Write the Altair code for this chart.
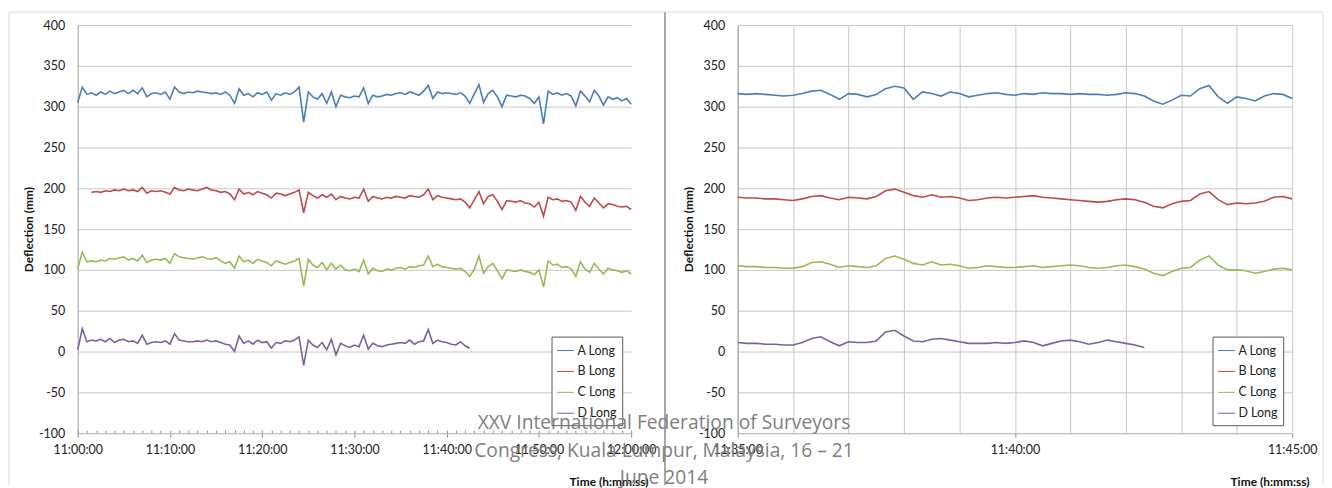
import altair as alt
import pandas as pd

# ---------------- data ----------------
SERIES = ["A Long", "B Long", "C Long", "D Long"]
COLORS = ["#4A7EBB", "#BE4B48", "#98B954", "#7D60A0"]
Y_TICKS = [-100, -50, 0, 50, 100, 150, 200, 250, 300, 350, 400]

# left panel: minutes after 11:00, 30-second samples
LEFT_STEP = 0.5
LEFT_START = [0.0, 1.5, 0.0, 0.0]
left_A = [305, 324, 315, 317, 314, 318, 315, 319, 316, 318,
          320, 316, 320, 316, 323, 312, 316, 317, 315, 318,
          309, 324, 318, 316, 318, 317, 319, 318, 317, 316,
          317, 315, 318, 314, 304, 322, 314, 316, 312, 317,
          315, 318, 308, 316, 314, 317, 315, 318, 324, 281,
          318, 312, 309, 316, 304, 318, 300, 314, 312, 311,
          313, 312, 323, 304, 314, 312, 313, 315, 314, 316,
          317, 315, 318, 316, 314, 319, 326, 310, 318, 316,
          317, 316, 315, 317, 313, 304, 316, 327, 305, 316,
          320, 312, 300, 314, 313, 312, 314, 313, 310, 304,
          312, 279, 319, 315, 317, 314, 316, 313, 301, 319,
          313, 306, 320, 313, 302, 312, 309, 311, 307, 310,
          303]
left_B = [195, 196, 195, 197, 196, 198, 197, 199, 197, 198,
          196, 201, 194, 197, 196, 197, 195, 193, 201, 198,
          197, 199, 198, 197, 199, 201, 198, 197, 195, 196,
          193, 186, 199, 193, 195, 192, 196, 194, 192, 188,
          194, 193, 191, 193, 195, 198, 170, 195, 191, 188,
          192, 189, 193, 186, 190, 188, 187, 189, 188, 199,
          184, 190, 188, 187, 189, 188, 190, 189, 188, 191,
          190, 189, 192, 199, 186, 191, 189, 188, 187, 186,
          187, 183, 176, 186, 196, 181, 190, 192, 184, 174,
          185, 184, 183, 185, 182, 181, 177, 183, 166, 189,
          186, 187, 184, 185, 183, 173, 190, 183, 178, 188,
          182, 176, 181, 180, 178, 177, 178, 174]
left_C = [101, 122, 110, 111, 110, 112, 111, 114, 113, 115,
          116, 112, 114, 111, 118, 109, 112, 113, 112, 114,
          108, 120, 116, 115, 114, 113, 115, 116, 114, 113,
          115, 111, 108, 110, 102, 117, 110, 112, 108, 113,
          111, 109, 105, 111, 109, 107, 109, 111, 114, 80,
          113, 106, 103, 109, 100, 108, 101, 106, 100, 99,
          101, 98, 112, 95, 102, 99, 98, 101, 100, 102,
          103, 101, 104, 103, 105, 106, 117, 104, 107, 104,
          103, 102, 101, 102, 98, 92, 101, 117, 96, 104,
          108, 99, 89, 100, 99, 98, 100, 98, 97, 94,
          100, 79, 111, 106, 107, 103, 104, 101, 92, 110,
          101, 97, 108, 101, 95, 102, 100, 99, 97, 99,
          95]
left_D = [2, 28, 12, 14, 13, 15, 12, 16, 11, 14,
          15, 12, 13, 10, 20, 9, 11, 12, 11, 13,
          9, 22, 14, 13, 12, 12, 13, 12, 14, 12,
          13, 11, 9, 8, 0, 19, 10, 13, 9, 14,
          11, 12, 4, 11, 10, 13, 12, 14, 18, -17,
          14, 8, 5, 11, 2, 15, -4, 10, 7, 5,
          8, 6, 20, 3, 10, 7, 6, 8, 9, 10,
          11, 10, 14, 9, 12, 13, 27, 10, 14, 12,
          11, 9, 8, 12, 7, 4]

# right panel: minutes after 11:00, 10-second samples from 11:35
RIGHT_STEP = 1 / 6
RIGHT_START = [35.0, 35.0, 35.0, 35.0]
right_A = [316, 315, 316, 315, 314, 313, 314, 316, 319, 320,
           315, 309, 316, 315, 312, 315, 322, 325, 323, 309,
           318, 316, 313, 318, 316, 312, 314, 316, 317, 315,
           314, 316, 315, 317, 316, 316, 315, 316, 315, 315,
           314, 315, 317, 316, 313, 307, 303, 308, 314, 313,
           322, 326, 312, 304, 312, 310, 307, 313, 316, 315,
           310]
right_B = [189, 188, 188, 187, 187, 186, 185, 187, 190, 191,
           188, 186, 189, 188, 187, 190, 197, 199, 195, 191,
           189, 192, 189, 190, 188, 185, 186, 188, 189, 188,
           189, 190, 191, 189, 188, 187, 186, 185, 184, 183,
           184, 186, 187, 186, 183, 178, 176, 181, 184, 185,
           193, 196, 186, 180, 182, 181, 182, 184, 189, 190,
           187]
right_C = [105, 104, 104, 103, 103, 102, 102, 104, 109, 110,
           107, 103, 105, 104, 103, 105, 114, 117, 113, 108,
           106, 110, 106, 107, 105, 102, 103, 105, 104, 103,
           103, 104, 105, 103, 104, 105, 106, 105, 103, 102,
           103, 105, 106, 104, 101, 96, 93, 98, 102, 103,
           112, 117, 106, 100, 100, 99, 96, 98, 101, 102,
           100]
right_D = [11, 10, 10, 9, 9, 8, 8, 11, 16, 18,
           12, 7, 12, 11, 11, 13, 24, 26, 19, 13,
           12, 15, 16, 14, 12, 10, 10, 10, 11, 10,
           11, 13, 11, 7, 10, 13, 14, 12, 9, 11,
           14, 12, 10, 8, 5]

LEFT_MAJOR = [0, 10, 20, 30, 40, 50, 60]
LEFT_MINOR = list(range(0, 61))
RIGHT_MAJOR = [35, 40, 45]
RIGHT_MINOR = list(range(35, 46))

OVERLAY = ["XXV International Federation of Surveyors",
           "Congress, Kuala Lumpur, Malaysia, 16 \u2013 21",
           "June 2014"]


def long_df(starts, step, lists):
    rows = []
    for name, start, vals in zip(SERIES, starts, lists):
        for i, v in enumerate(vals):
            rows.append({"t": start + i * step, "v": v, "s": name})
    return pd.DataFrame(rows)


left_df = long_df(LEFT_START, LEFT_STEP, [left_A, left_B, left_C, left_D])
right_df = long_df(RIGHT_START, RIGHT_STEP, [right_A, right_B, right_C, right_D])

LABEL_EXPR = ("(floor(datum.value/60)+11) + ':' + (datum.value % 60 < 10 ? '0' : '') "
              "+ (datum.value % 60) + ':00'")
FONT = "Lato"
W_L, W_R, H = 556, 557, 410
one = pd.DataFrame({"k": [0]})


def panel(df, domain, major, minor, width, minor_grid):
    xscale = alt.Scale(domain=domain, nice=False, zero=False)
    yscale = alt.Scale(domain=[-100, 400], nice=False)
    lines = alt.Chart(df).mark_line(strokeWidth=1.6).encode(
        x=alt.X("t:Q", scale=xscale, axis=alt.Axis(
            orient="bottom", labelFlush=False,
            values=major, labelExpr=LABEL_EXPR, grid=False, tickSize=4,
            tickColor="#8c8c8c", domainColor="#bdbdbd", labelPadding=6,
            labelFontSize=12.5, labelFont=FONT, labelColor="#222",
            title="Time (h:mm:ss)", titleFont=FONT, titleFontSize=12,
            titleFontWeight="bold", titleAlign="right", titleBaseline="middle",
            titleX=width + 17, titleY=49, titleColor="#111")),
        y=alt.Y("v:Q", scale=yscale, axis=alt.Axis(
            values=Y_TICKS, labelExpr="'' + datum.value", grid=True,
            gridColor="#c8c8c8", ticks=False,
            domainColor="#9a9a9a", labelPadding=13, labelFontSize=12.5,
            labelFont=FONT, labelColor="#222",
            title="Deflection (mm)", titleFont=FONT, titleFontSize=12,
            titleFontWeight="bold", titleX=-49, titleBaseline="middle",
            titleColor="#111")),
        color=alt.Color("s:N", scale=alt.Scale(domain=SERIES, range=COLORS),
                        legend=alt.Legend(
                            orient="none", legendX=width - 80, legendY=313,
                            title=None, symbolType="stroke", symbolSize=289,
                            symbolStrokeWidth=1, labelFont=FONT,
                            labelFontSize=12.5, labelColor="#222",
                            strokeColor="#5a5a5a", fillColor="white",
                            padding=5, rowPadding=5, labelOffset=3)),
        detail="s:N",
    )
    if minor_grid:
        minor_axis = alt.Axis(values=minor, labels=False, title=None,
                              domain=False, ticks=False, grid=True,
                              gridColor="#c8c8c8", orient="bottom")
    else:
        minor_axis = alt.Axis(values=minor, labels=False, title=None,
                              domain=False, grid=False, tickSize=3, offset=-3,
                              tickColor="#8c8c8c", orient="bottom")
    minor_df = pd.DataFrame({"m": minor})
    minor_layer = alt.Chart(minor_df).mark_point(opacity=0).encode(
        x=alt.X("m:Q", scale=xscale, axis=minor_axis),
        y=alt.value(0),
    )
    return alt.layer(minor_layer, lines).resolve_axis(x="independent").properties(
        width=width, height=H)


left = panel(left_df, [0, 60], LEFT_MAJOR, LEFT_MINOR, W_L, False)
right = panel(right_df, [35, 45], RIGHT_MAJOR, RIGHT_MINOR, W_R, True)

# frames around each chart
frame_l = alt.layer(
    alt.Chart(one).mark_rule(color="#dcdcdc").encode(
        x=alt.value(-69), x2=alt.value(590), y=alt.value(-13)),
    alt.Chart(one).mark_rule(color="#dcdcdc").encode(
        x=alt.value(-69), y=alt.value(-13), y2=alt.value(462)),
    alt.Chart(one).mark_rule(color="#a8a8a8", strokeWidth=2).encode(
        x=alt.value(590), y=alt.value(-13), y2=alt.value(462)),
)
frame_r = alt.layer(
    alt.Chart(one).mark_rule(color="#dcdcdc").encode(
        x=alt.value(-73), x2=alt.value(588), y=alt.value(-13)),
    alt.Chart(one).mark_rule(color="#dcdcdc").encode(
        x=alt.value(588), y=alt.value(-13), y2=alt.value(462)),
)
# conference caption drawn over both panels (placed in the right panel so it is on top)
overlay = alt.Chart(one).mark_text(
    font="Open Sans", fontSize=19.3, color="#7f7f7f", align="center",
    baseline="top", lineHeight=27.5).encode(
    x=alt.value(-74), y=alt.value(391), text=alt.value(OVERLAY))

left_full = alt.layer(frame_l, left)
right_full = alt.layer(frame_r, right, overlay)

chart = alt.hconcat(left_full, right_full, spacing=107, bounds="flush").resolve_scale(
    x="independent", y="independent", color="independent"
).properties(
    padding={"left": 0, "top": 2, "right": 0, "bottom": 0},
    background="white",
).configure_view(stroke=None)

chart.save("out.html", embed_options={"renderer": "svg", "actions": False})
